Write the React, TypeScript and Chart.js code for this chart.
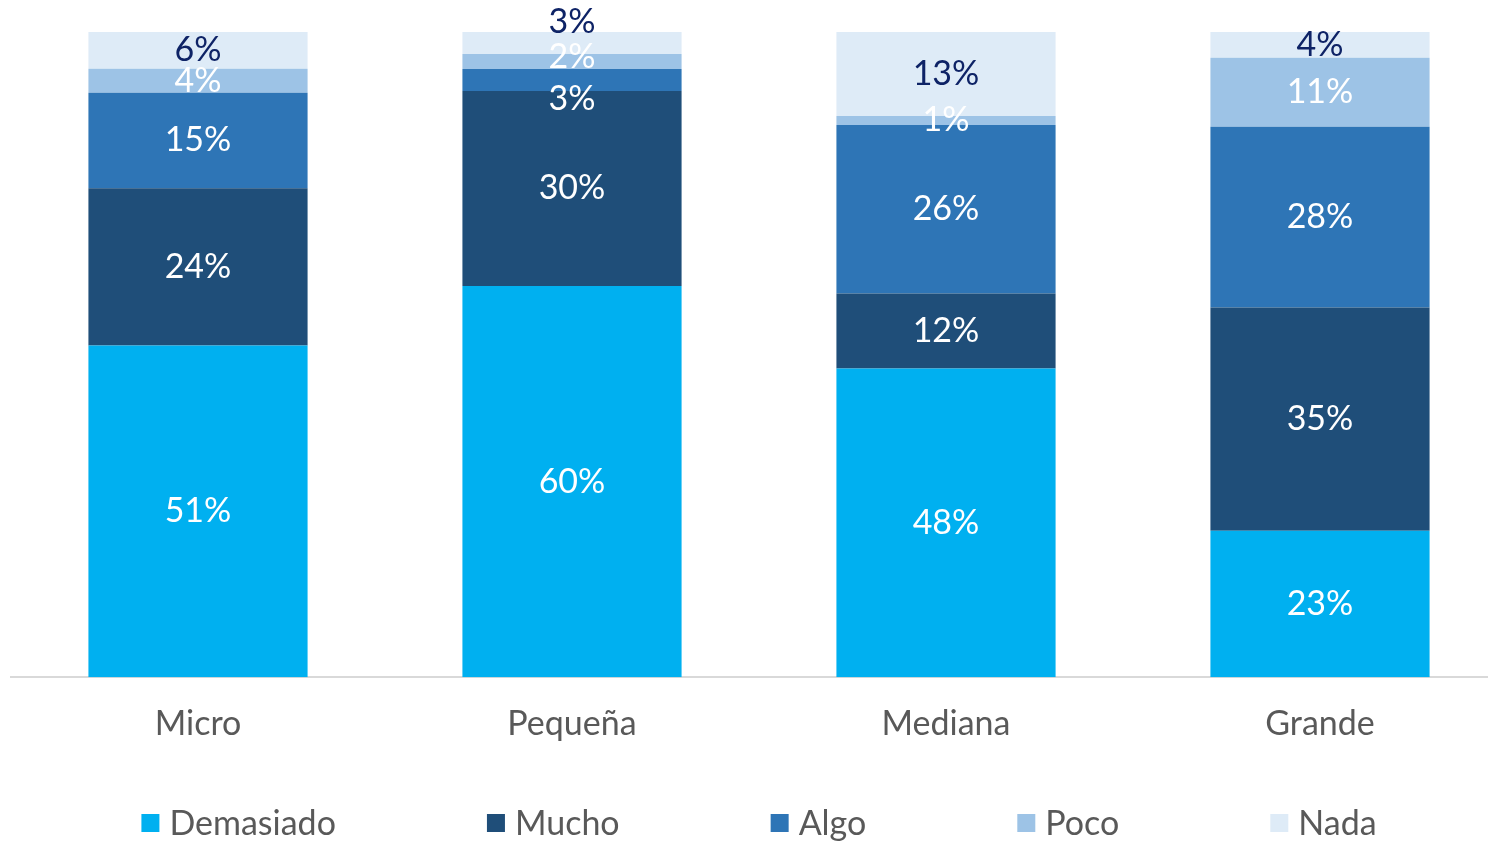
import React, { useEffect, useRef } from "react";
import { Chart, registerables } from "chart.js";

Chart.register(...registerables);

const categories = ["Micro", "Pequeña", "Mediana", "Grande"];
const seriesNames = ["Demasiado", "Mucho", "Algo", "Poco", "Nada"];
const demasiado = [51.4, 60.4, 47.8, 22.7];
const mucho = [24.4, 30.1, 11.6, 34.6];
const algo = [14.8, 3.4, 26.1, 28.0];
const poco = [3.7, 2.3, 1.4, 10.7];
const nada = [5.7, 3.4, 13.0, 4.0];

const seriesValues = [demasiado, mucho, algo, poco, nada];
const seriesColors = ["#00B0F0", "#1F4E79", "#2E75B6", "#9DC3E6", "#DEEBF7"];
const labelColors = ["#FFFFFF", "#FFFFFF", "#FFFFFF", "#FFFFFF", "#0E2366"];
// manual label nudges (px) keyed "dataset-category"
const labelNudges: Record<string, number> = { "4-1": -21, "3-1": -4, "2-1": 19 };

const FONT = "Lato, 'Open Sans', sans-serif";
const TEXT_GREY = "#595959";

const totals = categories.map((_, i) => seriesValues.reduce((s, arr) => s + arr[i], 0));

const dataLabelPlugin = {
  id: "dataLabels",
  afterDatasetsDraw(chart: any) {
    const ctx = chart.ctx;
    ctx.save();
    ctx.font = `34px ${FONT}`;
    ctx.textAlign = "center";
    ctx.textBaseline = "middle";
    chart.data.datasets.forEach((ds: any, di: number) => {
      const meta = chart.getDatasetMeta(di);
      meta.data.forEach((el: any, ci: number) => {
        const raw = seriesValues[di][ci];
        const cy = (el.y + el.base) / 2 + (labelNudges[`${di}-${ci}`] || 0);
        ctx.fillStyle = labelColors[di];
        ctx.fillText(`${Math.round(raw)}%`, el.x, cy);
      });
    });
    ctx.restore();
  },
};

const customLegendPlugin = {
  id: "customLegend",
  afterDraw(chart: any) {
    const ctx = chart.ctx;
    ctx.save();
    ctx.font = `34px ${FONT}`;
    const box = 18;
    const boxGap = 10;
    const itemGap = 151;
    const widths = seriesNames.map((n) => box + boxGap + ctx.measureText(n).width);
    const total = widths.reduce((a, b) => a + b, 0) + itemGap * (seriesNames.length - 1);
    let x = chart.width / 2 - total / 2;
    const y = 823;
    ctx.textBaseline = "middle";
    ctx.textAlign = "left";
    seriesNames.forEach((n, i) => {
      ctx.fillStyle = seriesColors[i];
      ctx.fillRect(x, y - box / 2, box, box);
      ctx.fillStyle = TEXT_GREY;
      ctx.fillText(n, x + box + boxGap, y + 1);
      x += widths[i] + itemGap;
    });
    ctx.restore();
  },
};

export default function App() {
  const canvasRef = useRef<HTMLCanvasElement | null>(null);

  useEffect(() => {
    if (!canvasRef.current) return;
    const chart = new Chart(canvasRef.current, {
      type: "bar",
      data: {
        labels: categories,
        datasets: seriesNames.map((name, di) => ({
          label: name,
          data: seriesValues[di].map((v, ci) => (v / totals[ci]) * 100),
          backgroundColor: seriesColors[di],
          borderWidth: 0,
          barPercentage: 0.586,
          categoryPercentage: 1,
        })),
      },
      options: {
        animation: false,
        responsive: false,
        maintainAspectRatio: false,
        layout: { padding: { left: 11, right: 11, top: 32, bottom: 72 } },
        plugins: {
          legend: { display: false },
          tooltip: { enabled: false },
        },
        scales: {
          x: {
            stacked: true,
            grid: { display: false, drawTicks: false, tickLength: 0 },
            border: { display: true, color: "#D9D9D9", width: 2 },
            ticks: {
              color: TEXT_GREY,
              font: { family: FONT, size: 34 },
              padding: 26,
            },
          },
          y: {
            stacked: true,
            display: false,
            min: 0,
            max: 100,
          },
        },
      },
      plugins: [dataLabelPlugin, customLegendPlugin],
    });
    return () => chart.destroy();
  }, []);

  return (
    <div
      style={{
        position: "fixed",
        left: 0,
        top: 0,
        width: 1488,
        height: 842,
        overflow: "hidden",
        background: "#FFFFFF",
      }}
    >
      <canvas ref={canvasRef} width={1518} height={842} style={{ display: "block" }} />
    </div>
  );
}
